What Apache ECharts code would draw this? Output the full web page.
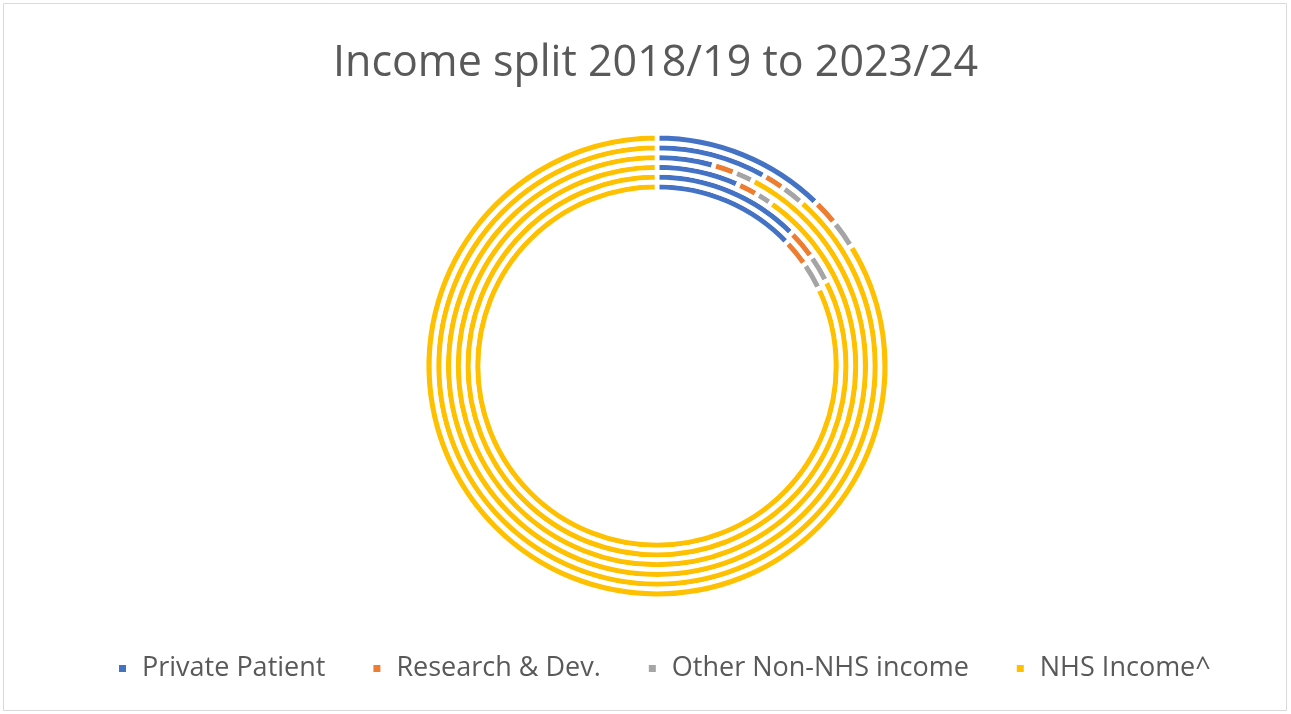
<!DOCTYPE html>
<html>
<head>
<meta charset="utf-8">
<script src="https://cdn.jsdelivr.net/npm/echarts@6/dist/echarts.min.js"></script>
<style>
html,body{margin:0;padding:0;background:#fff;}
#chart{width:1291px;height:714px;}
</style>
</head>
<body>
<div id="chart"></div>
<script>
// Categories (legend) and years (rings, innermost first)
const categories = ['Private Patient', 'Research & Dev.', 'Other Non-NHS income', 'NHS Income^'];
const years = ['2018/19', '2019/20', '2020/21', '2021/22', '2022/23', '2023/24'];
// Share of income (%) per year
const privatePatient = [12.9, 12.6, 6.7, 4.4, 8.2, 12.3];
const researchDev    = [2.5, 2.6, 1.7, 1.7, 1.6, 1.9];
const otherNonNHS    = [2.5, 2.4, 1.3, 1.5, 1.7, 2.0];
const nhsIncome      = [82.1, 82.4, 90.3, 92.4, 88.5, 83.8];

const colors = ['#4472C4', '#ED7D31', '#A5A5A5', '#FFC000'];
const valueSets = [privatePatient, researchDev, otherNonNHS, nhsIncome];

const ringInner = 174.4;
const ringStep = 9.74;

const series = years.map(function (y, i) {
  return {
    type: 'pie',
    name: y,
    center: [657, 366],
    radius: [ringInner + ringStep * i, ringInner + ringStep * (i + 1)],
    startAngle: 90,
    clockwise: true,
    avoidLabelOverlap: false,
    label: { show: false },
    labelLine: { show: false },
    emphasis: { disabled: true },
    silent: true,
    itemStyle: { borderColor: '#ffffff', borderWidth: 4.6 },
    data: categories.map(function (c, j) {
      return { name: c, value: valueSets[j][i], itemStyle: { color: colors[j] } };
    })
  };
});

const chart = echarts.init(document.getElementById('chart'), null, { renderer: 'canvas' });
chart.setOption({
  animation: false,
  color: colors,
  title: {
    text: 'Income split 2018/19 to 2023/24',
    left: 328,
    top: 37,
    textStyle: { fontFamily: 'Open Sans', fontSize: 43, fontWeight: 'normal', color: '#595959' }
  },
  legend: {
    data: categories,
    left: 112,
    top: 650,
    icon: 'rect',
    itemWidth: 9,
    itemHeight: 9,
    itemGap: 46,
    textStyle: { fontFamily: 'Open Sans', fontSize: 27, color: '#595959', padding: [0, 0, 0, 10] }
  },
  graphic: [{
    type: 'rect',
    shape: { x: 3.5, y: 3.5, width: 1283, height: 707 },
    style: { fill: 'none', stroke: '#d9d9d9', lineWidth: 1 },
    silent: true
  }],
  series: series
});
</script>
</body>
</html>
